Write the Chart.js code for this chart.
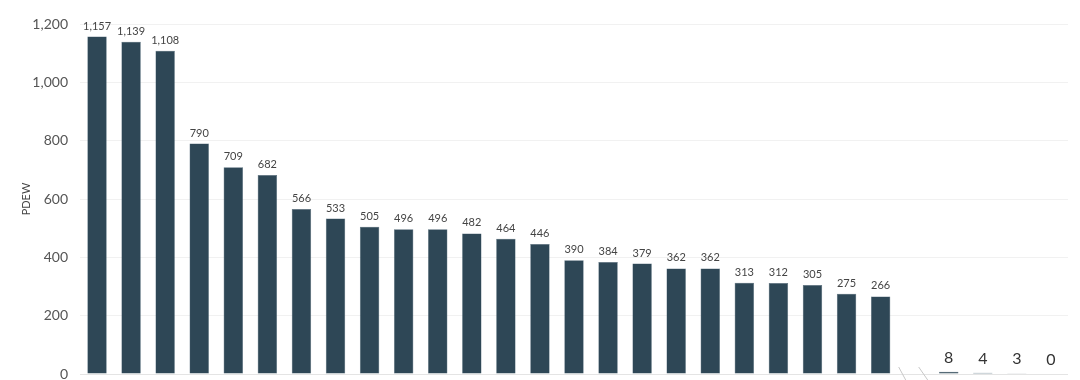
<!DOCTYPE html>
<html lang="en">
<head>
  <meta charset="UTF-8">
  <script src="https://cdn.jsdelivr.net/npm/chart.js"></script>
  <title>PDEW</title>
  <style>
    html, body { margin: 0; padding: 0; background: #fff; }
    canvas { display: block; }
  </style>
</head>
<body>
<canvas id="chart" width="1080" height="380"></canvas>
<script>
// one empty slot (the axis break) between the main group and the small tail
const categories = ['c1','c2','c3','c4','c5','c6','c7','c8','c9','c10','c11','c12','c13','c14','c15','c16','c17','c18','c19','c20','c21','c22','c23','c24','break','c25','c26','c27','c28'];
const values = [1157,1139,1108,790,709,682,566,533,505,496,496,482,464,446,390,384,379,362,362,313,312,305,275,266,null,8,4,3,0];
const bigLabelFrom = 25; // tail labels are drawn larger
const yTicks = [0,200,400,600,800,1000,1200];

const valueLabels = {
  id: 'valueLabels',
  afterDatasetsDraw(chart){
    const ctx = chart.ctx;
    const meta = chart.getDatasetMeta(0);
    ctx.save();
    ctx.textAlign = 'center';
    ctx.textBaseline = 'bottom';
    meta.data.forEach((bar, i)=>{
      const v = values[i];
      if (v === null) return;
      if (i >= bigLabelFrom) {
        ctx.font = '16px Lato';
        ctx.fillStyle = '#333';
        ctx.fillText(v.toLocaleString('en-US'), bar.x, bar.y - 6);
      } else {
        ctx.font = '11px Lato';
        ctx.fillStyle = '#444';
        ctx.fillText(v.toLocaleString('en-US'), bar.x, bar.y - 5);
      }
    });
    ctx.restore();
  }
};

// baseline + the two slashes marking the axis break
const breakMarks = {
  id: 'breakMarks',
  afterDraw(chart){
    const ctx = chart.ctx;
    const area = chart.chartArea;
    const x = chart.scales.x.getPixelForValue(categories.indexOf('break'));
    const y = chart.scales.y.getPixelForValue(0);
    ctx.save();
    ctx.strokeStyle = '#e4e4e4';
    ctx.lineWidth = 1;
    ctx.beginPath();
    ctx.moveTo(area.left, y + 0.5); ctx.lineTo(area.right, y + 0.5);
    ctx.stroke();
    ctx.strokeStyle = '#c8c8c8';
    ctx.beginPath();
    ctx.moveTo(x - 16, y - 7); ctx.lineTo(x - 9, y + 6);
    ctx.moveTo(x + 4, y - 7);  ctx.lineTo(x + 13, y + 6);
    ctx.stroke();
    ctx.restore();
  }
};

const config = {
  type: 'bar',
  data: {
    labels: categories,
    datasets: [{
      label: 'PDEW',
      data: values,
      backgroundColor: '#2e4756',
      borderColor: '#4d6675',
      borderWidth: 0.5,
      categoryPercentage: 1,
      barPercentage: 0.57
    }]
  },
  options: {
    responsive: false,
    animation: false,
    layout: { padding: { top: 24, right: 12, bottom: 6, left: 20 } },
    plugins: {
      legend: { display: false },
      tooltip: { enabled: false }
    },
    scales: {
      x: {
        display: false
      },
      y: {
        min: 0,
        max: 1200,
        afterBuildTicks(axis){ axis.ticks = yTicks.map(v => ({ value: v })); },
        afterFit(axis){
          axis.width = 60;
          axis.paddingTop = 0;
          axis.paddingBottom = 0;
        },
        grid: { color: '#f1f1f1', drawTicks: false },
        border: { display: false },
        ticks: {
          font: { family: 'Lato', size: 14 },
          color: '#555',
          padding: 12,
          callback: v => v.toLocaleString('en-US')
        },
        title: {
          display: true,
          text: 'PDEW',
          font: { family: 'Lato', size: 11 },
          color: '#444',
          padding: { top: 0, bottom: 4 }
        }
      }
    }
  },
  plugins: [valueLabels, breakMarks]
};

new Chart(document.getElementById('chart'), config);
</script>
</body>
</html>
